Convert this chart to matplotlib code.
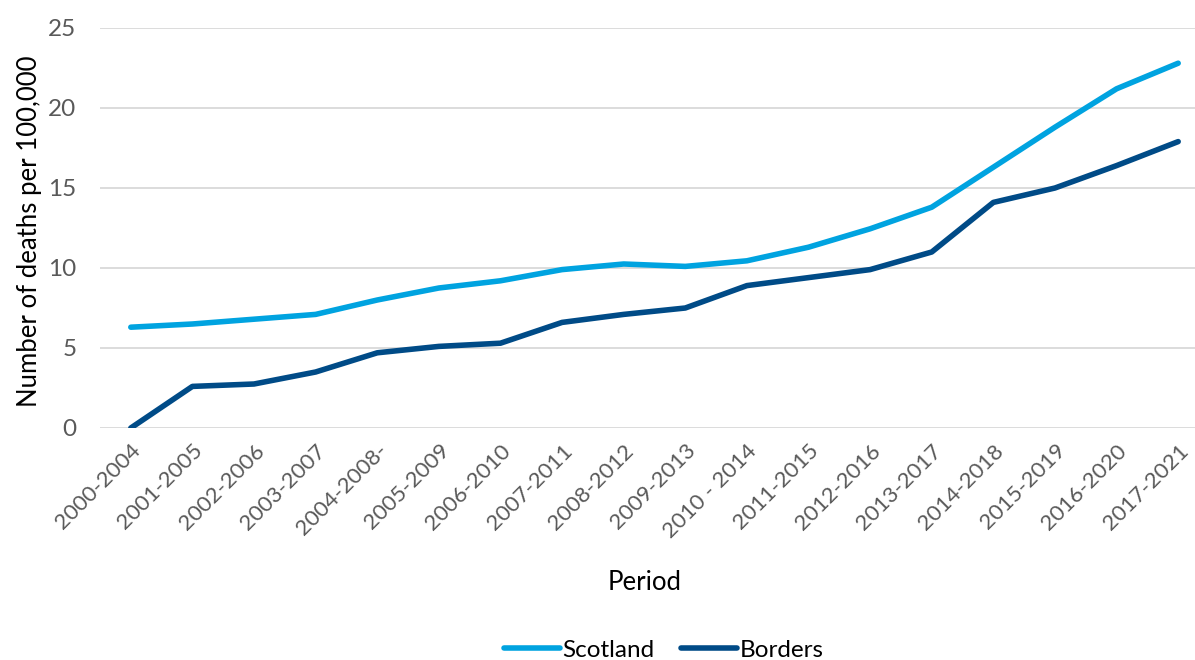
import matplotlib
matplotlib.use("Agg")
import matplotlib.pyplot as plt

periods = ["2000-2004", "2001-2005", "2002-2006", "2003-2007", "2004-2008-",
           "2005-2009", "2006-2010", "2007-2011", "2008-2012", "2009-2013",
           "2010 - 2014", "2011-2015", "2012-2016", "2013-2017", "2014-2018",
           "2015-2019", "2016-2020", "2017-2021"]
scotland = [6.3, 6.5, 6.8, 7.1, 8.0, 8.75, 9.2, 9.9, 10.25, 10.1,
            10.45, 11.3, 12.45, 13.8, 16.3, 18.8, 21.2, 22.8]
borders = [0.0, 2.6, 2.75, 3.5, 4.7, 5.1, 5.3, 6.6, 7.1, 7.5,
           8.9, 9.4, 9.9, 11.0, 14.1, 15.0, 16.4, 17.9]
yticks = [0, 5, 10, 15, 20, 25]

plt.rcParams['font.family'] = ['Lato', 'DejaVu Sans']

W, H = 1195, 660
fig = plt.figure(figsize=(W / 100, H / 100), dpi=100)
left, right, top, bottom = 100, 1209, 28, 428
ax = fig.add_axes([left / W, 1 - bottom / H, (right - left) / W, (bottom - top) / H])

x = list(range(len(periods)))
ax.plot(x, scotland, color="#00A3E0", lw=4.0, solid_capstyle="round",
        solid_joinstyle="round", label="Scotland", zorder=3)
ax.plot(x, borders, color="#004B87", lw=4.0, solid_capstyle="round",
        solid_joinstyle="round", label="Borders", zorder=3)

ax.set_xlim(-0.5, len(periods) - 0.5)
ax.set_ylim(0, 25)
ax.set_yticks(yticks)
ax.yaxis.grid(True, color="#D9D9D9", lw=1.3)
ax.set_axisbelow(True)
for s in ax.spines.values():
    s.set_visible(False)

ax.set_xticks(x)
ax.set_xticklabels(periods, rotation=45, ha="right", rotation_mode="anchor",
                   fontsize=16, color="#595959")
ax.tick_params(axis="x", length=0, pad=9)
ax.tick_params(axis="y", length=0, pad=17, labelsize=17.5, labelcolor="#595959")

fig.text(30 / W, 1 - 231 / H, "Number of deaths per 100,000", rotation=90,
         ha="center", va="center", fontsize=18.5, color="black")
fig.text(645 / W, 1 - 582 / H, "Period", ha="center", va="center",
         fontsize=18.5, color="black")

fig.legend(loc="center", bbox_to_anchor=(664 / W, 1 - 650 / H), ncol=2,
           frameon=False, fontsize=17.5, handlelength=2.3, handletextpad=0.1,
           columnspacing=1.1)

fig.savefig("out.png", dpi=100, facecolor="white")
